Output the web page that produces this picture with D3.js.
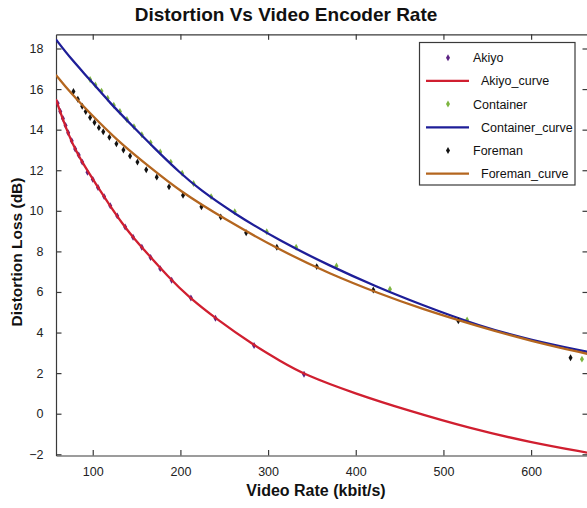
<!DOCTYPE html>
<html><head><meta charset="utf-8">
<script src="https://cdn.jsdelivr.net/npm/d3@7"></script>
<style>body{margin:0;background:#fff;}svg{display:block;}text{font-family:Arial,"Liberation Sans",sans-serif;}</style>
</head><body><div id="c"></div>
<script>
// ---- data ----
const xTicks = [100, 200, 300, 400, 500, 600];
const yTicks = [-2, 0, 2, 4, 6, 8, 10, 12, 14, 16, 18];

const akiyoX = [60, 63, 66, 69, 72, 76, 80, 84, 88, 94, 100, 106, 113, 120, 128, 137, 146, 156, 166, 177, 190, 212, 240, 284, 341];
const akiyoY = [15.3, 14.9, 14.55, 14.2, 13.85, 13.45, 13.05, 12.75, 12.4, 11.9, 11.55, 11.15, 10.7, 10.25, 9.75, 9.2, 8.7, 8.2, 7.7, 7.15, 6.58, 5.7, 4.7, 3.36, 1.94];

const containerX = [97, 103, 110, 117, 124, 131, 139, 147, 156, 166, 177, 189, 202, 215, 235, 262, 298.5, 332, 378, 439, 527, 658];
const containerY = [16.47, 16.2, 15.9, 15.55, 15.2, 14.9, 14.5, 14.15, 13.75, 13.35, 12.9, 12.4, 11.85, 11.35, 10.7, 9.95, 8.97, 8.2, 7.28, 6.13, 4.62, 2.69];

const foremanX = [78, 83, 88, 92, 97, 102, 107, 112, 119, 127, 135, 142.6, 151, 161, 173, 187, 203, 224, 246, 275, 310, 355.5, 420, 517, 645];
const foremanY = [15.88, 15.5, 15.15, 14.9, 14.6, 14.35, 14.1, 13.9, 13.62, 13.3, 13.0, 12.7, 12.4, 12.02, 11.66, 11.18, 10.77, 10.2, 9.7, 8.92, 8.2, 7.25, 6.1, 4.58, 2.76];

const akiyoCurveX = [58, 66, 73, 81, 88, 96, 106, 119, 134, 146, 156, 187, 210, 240, 284, 314, 341, 400, 458, 530, 600, 664];
const akiyoCurveY = [15.5, 14.5, 13.7, 12.95, 12.4, 11.85, 11.15, 10.3, 9.35, 8.7, 8.2, 6.7, 5.73, 4.7, 3.36, 2.6, 1.93, 0.98, 0.18, -0.72, -1.42, -1.92];

const containerCurveX = [58, 75, 96, 120, 146, 170, 200, 222, 260, 314, 370, 424, 473, 542, 600, 664];
const containerCurveY = [18.45, 17.5, 16.5, 15.3, 14.15, 13.1, 11.85, 11.05, 9.9, 8.5, 7.3, 6.25, 5.4, 4.3, 3.63, 3.05];

const foremanCurveX = [58, 75, 96, 127, 165, 200, 250, 314, 370, 428, 473, 540, 600, 664];
const foremanCurveY = [16.7, 15.8, 14.85, 13.5, 12.15, 10.95, 9.6, 8.05, 6.9, 5.9, 5.2, 4.3, 3.58, 2.95];

const legendLabels = ["Akiyo", "Akiyo_curve", "Container", "Container_curve", "Foreman", "Foreman_curve"];

// ---- drawing ----
const W = 587, H = 508;
const L = 56, R = 588, T = 34.3, B = 455.5;
const svg = d3.select("#c").append("svg").attr("width", W).attr("height", H);

const x = d3.scaleLinear().domain([58.1, 664.9]).range([L, R]);
const y = d3.scaleLinear().domain([-2.06, 18.7]).range([B, T]);

svg.append("defs").append("clipPath").attr("id", "clip")
  .append("rect").attr("x", L).attr("y", T).attr("width", R - L).attr("height", B - T);

const axisColor = "#3a3a3a";
const tickLen = 5.5;

// axes (ticks inward)
const gB = svg.append("g").attr("transform", `translate(0,${B})`)
  .call(d3.axisBottom(x).tickValues(xTicks).tickSize(-tickLen).tickPadding(12).tickSizeOuter(0));
const gT = svg.append("g").attr("transform", `translate(0,${T})`)
  .call(d3.axisTop(x).tickValues(xTicks).tickSize(-tickLen).tickFormat("").tickSizeOuter(0));
const gL = svg.append("g").attr("transform", `translate(${L},0)`)
  .call(d3.axisLeft(y).tickValues(yTicks).tickSize(-tickLen).tickPadding(12).tickSizeOuter(0));
const gR = svg.append("g").attr("transform", `translate(${R},0)`)
  .call(d3.axisRight(y).tickValues(yTicks).tickSize(-tickLen).tickFormat("").tickSizeOuter(0));
[gB, gT, gL, gR].forEach(g => {
  g.selectAll("path.domain").attr("stroke", axisColor).attr("stroke-width", 1.2);
  g.selectAll(".tick line").attr("stroke", axisColor).attr("stroke-width", 1.2);
  g.selectAll(".tick text").attr("fill", "#222").style("font-size", "12.5px").style("font-family", "Arial, 'Liberation Sans', sans-serif");
});
gL.selectAll(".tick text").attr("dx", "-0.5");

const plot = svg.append("g").attr("clip-path", "url(#clip)");

const line = d3.line().x(d => x(d[0])).y(d => y(d[1])).curve(d3.curveBasis);
const zip = (a, b) => a.map((v, i) => [v, b[i]]);

const colors = {
  akiyo: "#5c2383", akiyoCurve: "#d01f30",
  container: "#7db540", containerCurve: "#1e1e98",
  foreman: "#111111", foremanCurve: "#b4661f"
};

const sym = d3.symbol().type(d3.symbolDiamond).size(14);

function points(xs, ys, color) {
  plot.append("g").selectAll("path").data(zip(xs, ys)).join("path")
    .attr("d", sym).attr("transform", d => `translate(${x(d[0])},${y(d[1])})`)
    .attr("fill", color);
}
function curve(xs, ys, color) {
  plot.append("path").datum(zip(xs, ys)).attr("d", line)
    .attr("fill", "none").attr("stroke", color).attr("stroke-width", 2.3);
}

points(akiyoX, akiyoY, colors.akiyo);
curve(akiyoCurveX, akiyoCurveY, colors.akiyoCurve);
points(containerX, containerY, colors.container);
curve(containerCurveX, containerCurveY, colors.containerCurve);
points(foremanX, foremanY, colors.foreman);
curve(foremanCurveX, foremanCurveY, colors.foremanCurve);

// title & labels
svg.append("text").attr("x", 286).attr("y", 20.5).attr("text-anchor", "middle")
  .style("font-size", "19px").style("font-weight", "bold").attr("fill", "#111")
  .text("Distortion Vs Video Encoder Rate");
svg.append("text").attr("x", 316).attr("y", 496).attr("text-anchor", "middle")
  .style("font-size", "16px").style("font-weight", "bold").attr("fill", "#111")
  .text("Video Rate (kbit/s)");
svg.append("text").attr("transform", "translate(22,252) rotate(-90)").attr("text-anchor", "middle")
  .style("font-size", "15.5px").style("font-weight", "bold").attr("fill", "#111")
  .text("Distortion Loss (dB)");

// legend
const lg = svg.append("g");
lg.append("rect").attr("x", 419.5).attr("y", 42.5).attr("width", 155.5).attr("height", 142.5)
  .attr("fill", "#fff").attr("stroke", axisColor).attr("stroke-width", 1.2);
const legendColors = [colors.akiyo, colors.akiyoCurve, colors.container, colors.containerCurve, colors.foreman, colors.foremanCurve];
legendLabels.forEach((lab, i) => {
  const cy = 57.7 + i * 23.2;
  const isCurve = i % 2 === 1;
  if (isCurve) {
    lg.append("line").attr("x1", 426).attr("x2", 469).attr("y1", cy).attr("y2", cy)
      .attr("stroke", legendColors[i]).attr("stroke-width", 2.3);
  } else {
    lg.append("path").attr("d", sym).attr("transform", `translate(448,${cy})`).attr("fill", legendColors[i]);
  }
  lg.append("text").attr("x", isCurve ? 481 : 473).attr("y", cy + 4.5)
    .style("font-size", "12.5px").attr("fill", "#111").text(lab);
});
</script></body></html>
